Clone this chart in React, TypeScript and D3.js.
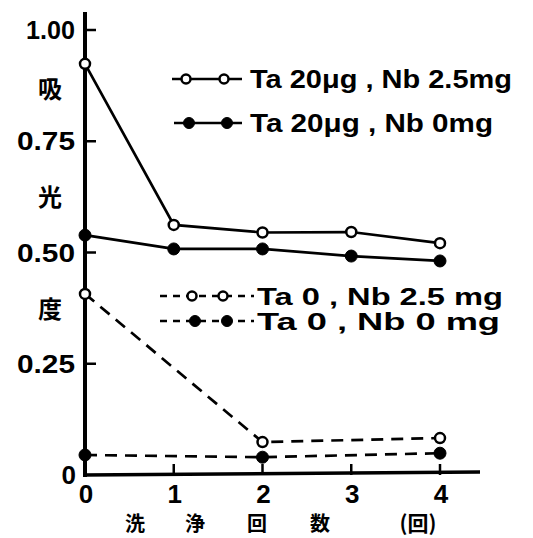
import React from "react";
import * as d3 from "d3";

const washCounts = [0, 1, 2, 3, 4];
const yTicks = [0, 0.25, 0.5, 0.75, 1.0];
const yTickLabels = ["0", "0.25", "0.50", "0.75", "1.00"];

const seriesTa20Nb25X = [0, 1, 2, 3, 4];
const seriesTa20Nb25Y = [0.924, 0.562, 0.545, 0.546, 0.521];
const seriesTa20Nb0X = [0, 1, 2, 3, 4];
const seriesTa20Nb0Y = [0.539, 0.508, 0.508, 0.492, 0.481];
const seriesTa0Nb25X = [0, 2, 4];
const seriesTa0Nb25Y = [0.407, 0.074, 0.083];
const seriesTa0Nb0X = [0, 2, 4];
const seriesTa0Nb0Y = [0.045, 0.04, 0.049];

const legendLabels = [
  "Ta 20μg , Nb 2.5mg",
  "Ta 20μg , Nb 0mg",
  "Ta 0 , Nb 2.5 mg",
  "Ta 0 , Nb 0 mg",
];
const yTitleChars = ["吸", "光", "度"];
const xTitleChars = ["洗", "浄", "回", "数"];
const xUnit = "(回)";

const FONT = "'Liberation Sans', Arial, sans-serif";
const CJK = "'Noto Sans CJK JP', 'Noto Sans CJK SC', sans-serif";

export default function App() {
  const x = d3.scaleLinear().domain([0, 4]).range([85, 440]);
  const y = d3.scaleLinear().domain([0, 1]).range([475, 30]);

  const series = [
    { xs: seriesTa20Nb25X, ys: seriesTa20Nb25Y, open: true, dashed: false },
    { xs: seriesTa20Nb0X, ys: seriesTa20Nb0Y, open: false, dashed: false },
    { xs: seriesTa0Nb25X, ys: seriesTa0Nb25Y, open: true, dashed: true },
    { xs: seriesTa0Nb0X, ys: seriesTa0Nb0Y, open: false, dashed: true },
  ];

  const line = d3
    .line<[number, number]>()
    .x((d) => x(d[0]))
    .y((d) => y(d[1]));

  const legendRows = [
    { y: 79, x1: 172, x2: 242, cx: [186, 224], textX: 250, len: 262 },
    { y: 123, x1: 174, x2: 242, cx: [189, 227], textX: 250, len: 243 },
    { y: 296, x1: 160, x2: 254, cx: [192, 223], textX: 257, len: 246 },
    { y: 321, x1: 160, x2: 254, cx: [195, 227], textX: 257, len: 243 },
  ];

  return (
    <svg
      width={533}
      height={538}
      style={{ position: "absolute", left: 0, top: 0, background: "#fff" }}
    >
      <rect x={0} y={0} width={533} height={538} fill="#fff" />
      {/* axes */}
      <line x1={x(0)} x2={x(0)} y1={12} y2={y(0) + 2} stroke="#000" strokeWidth={4} />
      <line x1={x(0) - 2} x2={480} y1={y(0)} y2={y(0) - 3} stroke="#000" strokeWidth={3.5} />
      {yTicks.slice(1).map((t) => (
        <line key={t} x1={x(0)} x2={x(0) + 11} y1={y(t)} y2={y(t)} stroke="#000" strokeWidth={2.5} />
      ))}
      {washCounts.slice(1).map((t) => (
        <line key={t} x1={x(t)} x2={x(t)} y1={y(0)} y2={y(0) - 11} stroke="#000" strokeWidth={2.5} />
      ))}
      {yTicks.map((t, i) => (
        <text
          key={t}
          x={i === 0 ? 76 : 75}
          y={y(t) + 9}
          textAnchor="end"
          fontFamily={FONT}
          fontWeight="bold"
          fontSize={26}
          textLength={i === 0 ? undefined : i === 4 ? 49 : 58}
          lengthAdjust="spacingAndGlyphs"
        >
          {yTickLabels[i]}
        </text>
      ))}
      {washCounts.map((t) => (
        <text
          key={t}
          x={x(t) + 1}
          y={503}
          textAnchor="middle"
          fontFamily={FONT}
          fontWeight="bold"
          fontSize={26}
        >
          {t}
        </text>
      ))}
      {yTitleChars.map((c, i) => (
        <text
          key={c}
          x={50}
          y={[89, 197, 309][i] + 9}
          textAnchor="middle"
          fontFamily={CJK}
          fontWeight="bold"
          fontSize={24}
        >
          {c}
        </text>
      ))}
      {xTitleChars.map((c, i) => (
        <text
          key={c + i}
          x={[135, 195, 257, 320][i]}
          y={531}
          textAnchor="middle"
          fontFamily={CJK}
          fontWeight="bold"
          fontSize={20}
        >
          {c}
        </text>
      ))}
      <text x={418} y={531} textAnchor="middle" fontFamily={CJK} fontWeight="bold" fontSize={21}>
        {xUnit}
      </text>

      {/* series */}
      {series.map((s, i) => {
        const pts = s.xs.map((v, j) => [v, s.ys[j]] as [number, number]);
        return (
          <g key={i}>
            <path
              d={line(pts) || ""}
              fill="none"
              stroke="#000"
              strokeWidth={2.7}
              strokeDasharray={s.dashed ? "12 8" : undefined}
            />
            {pts.map((p, j) => (
              <circle
                key={j}
                cx={x(p[0])}
                cy={y(p[1])}
                r={s.open ? 5 : 6}
                fill={s.open ? "#fff" : "#000"}
                stroke="#000"
                strokeWidth={s.open ? 2.5 : 1}
              />
            ))}
          </g>
        );
      })}

      {/* legend */}
      {legendRows.map((r, i) => {
        const s = series[i];
        return (
          <g key={i}>
            <line
              x1={r.x1}
              x2={r.x2}
              y1={r.y}
              y2={r.y}
              stroke="#000"
              strokeWidth={2.5}
              strokeDasharray={s.dashed ? "7 6" : undefined}
            />
            {r.cx.map((cx, j) => (
              <circle
                key={j}
                cx={cx}
                cy={r.y}
                r={s.open ? 4.5 : 5.5}
                fill={s.open ? "#fff" : "#000"}
                stroke="#000"
                strokeWidth={s.open ? 2.5 : 1}
              />
            ))}
            <text
              x={r.textX}
              y={r.y + 9}
              fontFamily={FONT}
              fontWeight="bold"
              fontSize={i >= 2 ? 23 : 25}
              textLength={r.len}
              lengthAdjust="spacingAndGlyphs"
            >
              {legendLabels[i]}
            </text>
          </g>
        );
      })}
    </svg>
  );
}
